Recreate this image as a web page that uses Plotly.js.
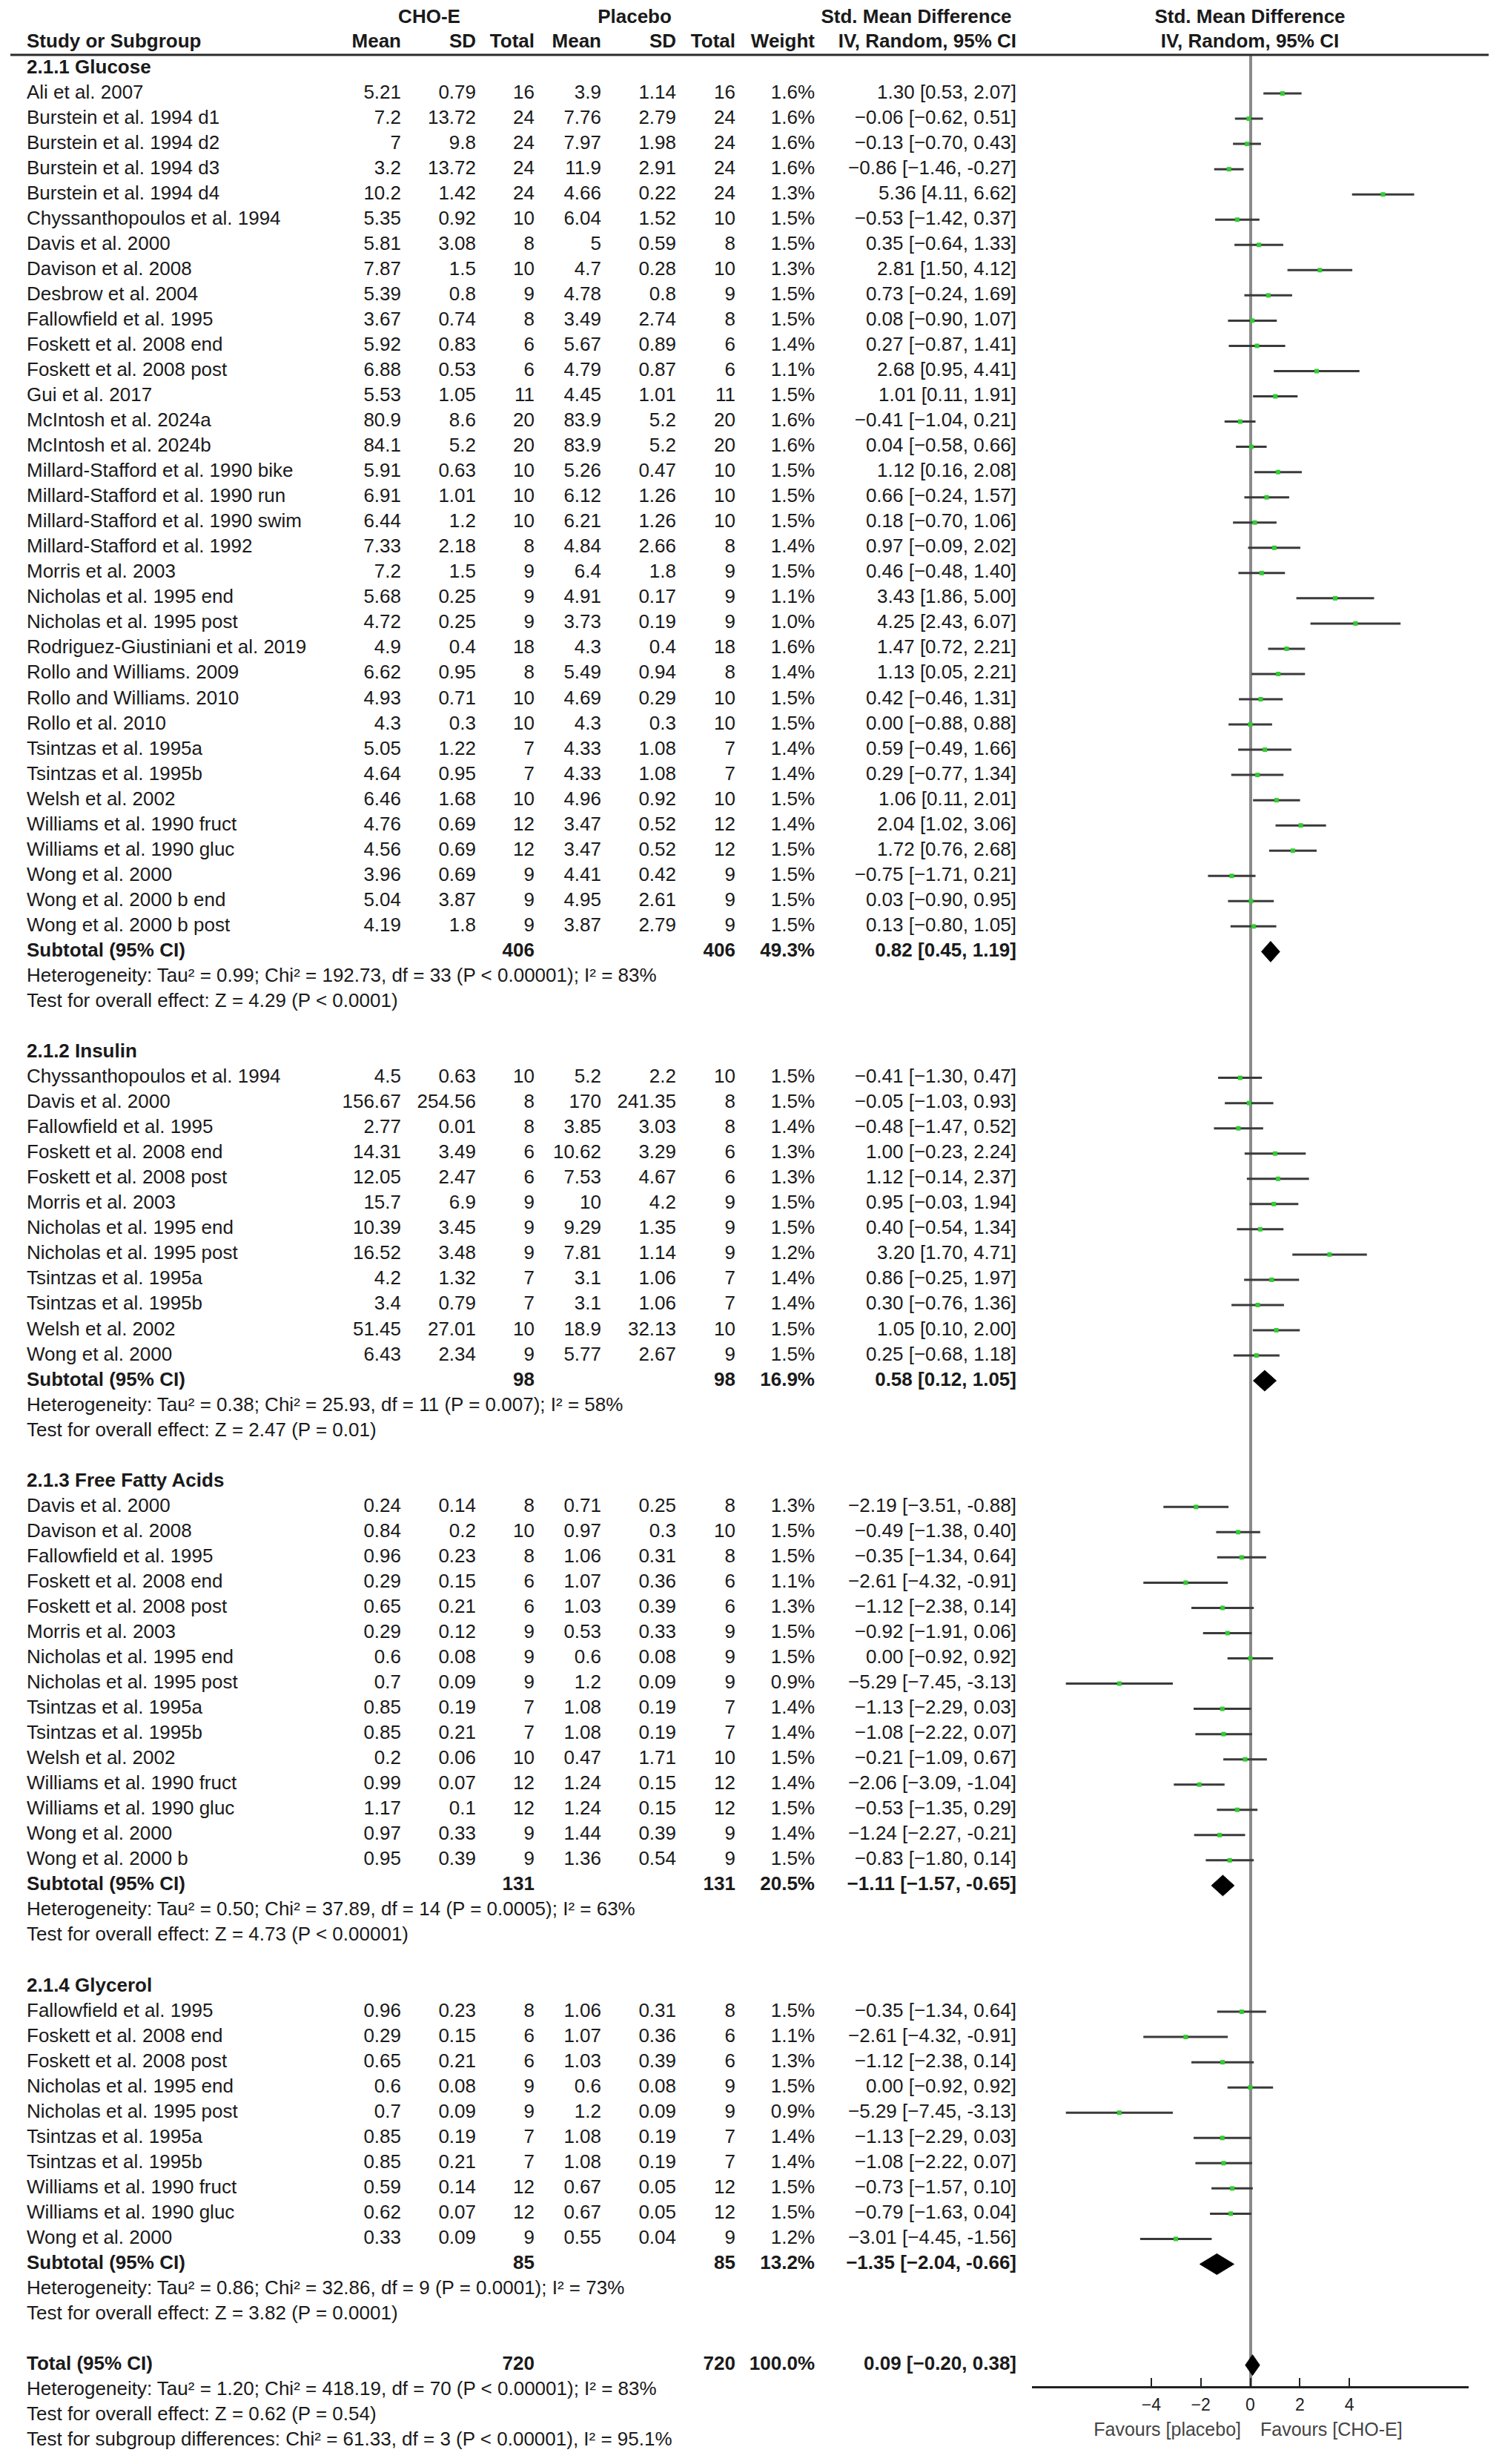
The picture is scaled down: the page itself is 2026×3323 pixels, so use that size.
<!DOCTYPE html>
<html>
<head>
<meta charset="utf-8">
<script src="https://cdn.plot.ly/plotly-3.0.1.min.js"></script>
<style>
  html, body { margin: 0; padding: 0; background: #fff; }
  #myPlot { width: 2026px; height: 3323px; }
</style>
</head>
<body>
<div id="myPlot"></div>
<script>
// ---- subgroups ----
var groupLabels = ["2.1.1 Glucose", "2.1.2 Insulin", "2.1.3 Free Fatty Acids", "2.1.4 Glycerol"];
var groupSizes = [34, 12, 15, 10];
var groupN = [406, 98, 131, 85];
var groupWeight = [49.3, 16.9, 20.5, 13.2];
var groupSmd = [0.82, 0.58, -1.11, -1.35];
var groupLow = [0.45, 0.12, -1.57, -2.04];
var groupHigh = [1.19, 1.05, -0.65, -0.66];
var groupHet = [
    "Heterogeneity: Tau² = 0.99; Chi² = 192.73, df = 33 (P < 0.00001); I² = 83%",
    "Heterogeneity: Tau² = 0.38; Chi² = 25.93, df = 11 (P = 0.007); I² = 58%",
    "Heterogeneity: Tau² = 0.50; Chi² = 37.89, df = 14 (P = 0.0005); I² = 63%",
    "Heterogeneity: Tau² = 0.86; Chi² = 32.86, df = 9 (P = 0.0001); I² = 73%"
];
var groupTest = [
    "Test for overall effect: Z = 4.29 (P < 0.0001)",
    "Test for overall effect: Z = 2.47 (P = 0.01)",
    "Test for overall effect: Z = 4.73 (P < 0.00001)",
    "Test for overall effect: Z = 3.82 (P = 0.0001)"
];

// ---- overall ----
var totalN = 720;
var totalWeight = 100.0;
var totalSmd = 0.09, totalLow = -0.20, totalHigh = 0.38;
var totalNotes = [
    "Heterogeneity: Tau² = 1.20; Chi² = 418.19, df = 70 (P < 0.00001); I² = 83%",
    "Test for overall effect: Z = 0.62 (P = 0.54)",
    "Test for subgroup differences: Chi² = 61.33, df = 3 (P < 0.00001), I² = 95.1%"
];

// ---- studies (glucose 34, insulin 12, FFA 15, glycerol 10) ----
var studyNames = [
    "Ali et al. 2007", "Burstein et al. 1994 d1", "Burstein et al. 1994 d2", "Burstein et al. 1994 d3",
    "Burstein et al. 1994 d4", "Chyssanthopoulos et al. 1994", "Davis et al. 2000", "Davison et al. 2008",
    "Desbrow et al. 2004", "Fallowfield et al. 1995", "Foskett et al. 2008 end", "Foskett et al. 2008 post",
    "Gui et al. 2017", "McIntosh et al. 2024a", "McIntosh et al. 2024b", "Millard-Stafford et al. 1990 bike",
    "Millard-Stafford et al. 1990 run", "Millard-Stafford et al. 1990 swim", "Millard-Stafford et al. 1992",
    "Morris et al. 2003", "Nicholas et al. 1995 end", "Nicholas et al. 1995 post",
    "Rodriguez-Giustiniani et al. 2019", "Rollo and Williams. 2009", "Rollo and Williams. 2010",
    "Rollo et al. 2010", "Tsintzas et al. 1995a", "Tsintzas et al. 1995b", "Welsh et al. 2002",
    "Williams et al. 1990 fruct", "Williams et al. 1990 gluc", "Wong et al. 2000", "Wong et al. 2000 b end",
    "Wong et al. 2000 b post",

    "Chyssanthopoulos et al. 1994", "Davis et al. 2000", "Fallowfield et al. 1995", "Foskett et al. 2008 end",
    "Foskett et al. 2008 post", "Morris et al. 2003", "Nicholas et al. 1995 end", "Nicholas et al. 1995 post",
    "Tsintzas et al. 1995a", "Tsintzas et al. 1995b", "Welsh et al. 2002", "Wong et al. 2000",

    "Davis et al. 2000", "Davison et al. 2008", "Fallowfield et al. 1995", "Foskett et al. 2008 end",
    "Foskett et al. 2008 post", "Morris et al. 2003", "Nicholas et al. 1995 end", "Nicholas et al. 1995 post",
    "Tsintzas et al. 1995a", "Tsintzas et al. 1995b", "Welsh et al. 2002", "Williams et al. 1990 fruct",
    "Williams et al. 1990 gluc", "Wong et al. 2000", "Wong et al. 2000 b",

    "Fallowfield et al. 1995", "Foskett et al. 2008 end", "Foskett et al. 2008 post", "Nicholas et al. 1995 end",
    "Nicholas et al. 1995 post", "Tsintzas et al. 1995a", "Tsintzas et al. 1995b", "Williams et al. 1990 fruct",
    "Williams et al. 1990 gluc", "Wong et al. 2000"
];
var choMean = [
    5.21, 7.2, 7, 3.2, 10.2, 5.35, 5.81, 7.87, 5.39, 3.67, 5.92, 6.88, 5.53, 80.9, 84.1, 5.91, 6.91,
    6.44, 7.33, 7.2, 5.68, 4.72, 4.9, 6.62, 4.93, 4.3, 5.05, 4.64, 6.46, 4.76, 4.56, 3.96, 5.04, 4.19,
    4.5, 156.67, 2.77, 14.31, 12.05, 15.7, 10.39, 16.52, 4.2, 3.4, 51.45, 6.43,
    0.24, 0.84, 0.96, 0.29, 0.65, 0.29, 0.6, 0.7, 0.85, 0.85, 0.2, 0.99, 1.17, 0.97, 0.95,
    0.96, 0.29, 0.65, 0.6, 0.7, 0.85, 0.85, 0.59, 0.62, 0.33
];
var choSD = [
    0.79, 13.72, 9.8, 13.72, 1.42, 0.92, 3.08, 1.5, 0.8, 0.74, 0.83, 0.53, 1.05, 8.6, 5.2, 0.63, 1.01,
    1.2, 2.18, 1.5, 0.25, 0.25, 0.4, 0.95, 0.71, 0.3, 1.22, 0.95, 1.68, 0.69, 0.69, 0.69, 3.87, 1.8,
    0.63, 254.56, 0.01, 3.49, 2.47, 6.9, 3.45, 3.48, 1.32, 0.79, 27.01, 2.34,
    0.14, 0.2, 0.23, 0.15, 0.21, 0.12, 0.08, 0.09, 0.19, 0.21, 0.06, 0.07, 0.1, 0.33, 0.39,
    0.23, 0.15, 0.21, 0.08, 0.09, 0.19, 0.21, 0.14, 0.07, 0.09
];
var choN = [
    16, 24, 24, 24, 24, 10, 8, 10, 9, 8, 6, 6, 11, 20, 20, 10, 10, 10, 8, 9, 9, 9, 18, 8, 10, 10, 7, 7,
    10, 12, 12, 9, 9, 9,
    10, 8, 8, 6, 6, 9, 9, 9, 7, 7, 10, 9,
    8, 10, 8, 6, 6, 9, 9, 9, 7, 7, 10, 12, 12, 9, 9,
    8, 6, 6, 9, 9, 7, 7, 12, 12, 9
];
var plMean = [
    3.9, 7.76, 7.97, 11.9, 4.66, 6.04, 5, 4.7, 4.78, 3.49, 5.67, 4.79, 4.45, 83.9, 83.9, 5.26, 6.12,
    6.21, 4.84, 6.4, 4.91, 3.73, 4.3, 5.49, 4.69, 4.3, 4.33, 4.33, 4.96, 3.47, 3.47, 4.41, 4.95, 3.87,
    5.2, 170, 3.85, 10.62, 7.53, 10, 9.29, 7.81, 3.1, 3.1, 18.9, 5.77,
    0.71, 0.97, 1.06, 1.07, 1.03, 0.53, 0.6, 1.2, 1.08, 1.08, 0.47, 1.24, 1.24, 1.44, 1.36,
    1.06, 1.07, 1.03, 0.6, 1.2, 1.08, 1.08, 0.67, 0.67, 0.55
];
var plSD = [
    1.14, 2.79, 1.98, 2.91, 0.22, 1.52, 0.59, 0.28, 0.8, 2.74, 0.89, 0.87, 1.01, 5.2, 5.2, 0.47, 1.26,
    1.26, 2.66, 1.8, 0.17, 0.19, 0.4, 0.94, 0.29, 0.3, 1.08, 1.08, 0.92, 0.52, 0.52, 0.42, 2.61, 2.79,
    2.2, 241.35, 3.03, 3.29, 4.67, 4.2, 1.35, 1.14, 1.06, 1.06, 32.13, 2.67,
    0.25, 0.3, 0.31, 0.36, 0.39, 0.33, 0.08, 0.09, 0.19, 0.19, 1.71, 0.15, 0.15, 0.39, 0.54,
    0.31, 0.36, 0.39, 0.08, 0.09, 0.19, 0.19, 0.05, 0.05, 0.04
];
var plN = [
    16, 24, 24, 24, 24, 10, 8, 10, 9, 8, 6, 6, 11, 20, 20, 10, 10, 10, 8, 9, 9, 9, 18, 8, 10, 10, 7, 7,
    10, 12, 12, 9, 9, 9,
    10, 8, 8, 6, 6, 9, 9, 9, 7, 7, 10, 9,
    8, 10, 8, 6, 6, 9, 9, 9, 7, 7, 10, 12, 12, 9, 9,
    8, 6, 6, 9, 9, 7, 7, 12, 12, 9
];
var weightPct = [
    1.6, 1.6, 1.6, 1.6, 1.3, 1.5, 1.5, 1.3, 1.5, 1.5, 1.4, 1.1, 1.5, 1.6, 1.6, 1.5, 1.5, 1.5, 1.4, 1.5,
    1.1, 1.0, 1.6, 1.4, 1.5, 1.5, 1.4, 1.4, 1.5, 1.4, 1.5, 1.5, 1.5, 1.5,
    1.5, 1.5, 1.4, 1.3, 1.3, 1.5, 1.5, 1.2, 1.4, 1.4, 1.5, 1.5,
    1.3, 1.5, 1.5, 1.1, 1.3, 1.5, 1.5, 0.9, 1.4, 1.4, 1.5, 1.4, 1.5, 1.4, 1.5,
    1.5, 1.1, 1.3, 1.5, 0.9, 1.4, 1.4, 1.5, 1.5, 1.2
];
var smd = [
    1.30, -0.06, -0.13, -0.86, 5.36, -0.53, 0.35, 2.81, 0.73, 0.08, 0.27, 2.68, 1.01, -0.41, 0.04, 1.12,
    0.66, 0.18, 0.97, 0.46, 3.43, 4.25, 1.47, 1.13, 0.42, 0.00, 0.59, 0.29, 1.06, 2.04, 1.72, -0.75, 0.03, 0.13,
    -0.41, -0.05, -0.48, 1.00, 1.12, 0.95, 0.40, 3.20, 0.86, 0.30, 1.05, 0.25,
    -2.19, -0.49, -0.35, -2.61, -1.12, -0.92, 0.00, -5.29, -1.13, -1.08, -0.21, -2.06, -0.53, -1.24, -0.83,
    -0.35, -2.61, -1.12, 0.00, -5.29, -1.13, -1.08, -0.73, -0.79, -3.01
];
var ciLow = [
    0.53, -0.62, -0.70, -1.46, 4.11, -1.42, -0.64, 1.50, -0.24, -0.90, -0.87, 0.95, 0.11, -1.04, -0.58, 0.16,
    -0.24, -0.70, -0.09, -0.48, 1.86, 2.43, 0.72, 0.05, -0.46, -0.88, -0.49, -0.77, 0.11, 1.02, 0.76, -1.71, -0.90, -0.80,
    -1.30, -1.03, -1.47, -0.23, -0.14, -0.03, -0.54, 1.70, -0.25, -0.76, 0.10, -0.68,
    -3.51, -1.38, -1.34, -4.32, -2.38, -1.91, -0.92, -7.45, -2.29, -2.22, -1.09, -3.09, -1.35, -2.27, -1.80,
    -1.34, -4.32, -2.38, -0.92, -7.45, -2.29, -2.22, -1.57, -1.63, -4.45
];
var ciHigh = [
    2.07, 0.51, 0.43, -0.27, 6.62, 0.37, 1.33, 4.12, 1.69, 1.07, 1.41, 4.41, 1.91, 0.21, 0.66, 2.08,
    1.57, 1.06, 2.02, 1.40, 5.00, 6.07, 2.21, 2.21, 1.31, 0.88, 1.66, 1.34, 2.01, 3.06, 2.68, 0.21, 0.95, 1.05,
    0.47, 0.93, 0.52, 2.24, 2.37, 1.94, 1.34, 4.71, 1.97, 1.36, 2.00, 1.18,
    -0.88, 0.40, 0.64, -0.91, 0.14, 0.06, 0.92, -3.13, 0.03, 0.07, 0.67, -1.04, 0.29, -0.21, 0.14,
    0.64, -0.91, 0.14, 0.92, -3.13, 0.03, 0.07, 0.10, 0.04, -1.56
];

var axisTicks = [-4, -2, 0, 2, 4];
var favourLeft = "Favours [placebo]", favourRight = "Favours [CHO-E]";

// ---- page geometry (pixels) ----
var W = 2026, H = 3323;
var ROW0 = 92, ROWH = 34.04;          // first data row centre, row pitch
var HEAD_LINE = 74, AXIS_LINE = 3218;
var PLOT_L = 1392, PLOT_R = 1981;
var FONT = "Liberation Sans, Arial, sans-serif";
var FS = 26;
var INK = "#1a1a1a";
var COL = {name: 36, m1: 541, s1: 642, n1: 721, m2: 811, s2: 912, n2: 992, w: 1099, ci: 1371};

function rowAt(px) { return (px - ROW0) / ROWH; }
function esc(s) { return s.replace(/</g, "&lt;"); }
function num(v, d, sign) {
    var s = Math.abs(v).toFixed(d);
    return v < 0 ? sign + s : s;
}
function ciText(e, lo, hi) {
    return num(e, 2, "\u2212") + " [" + num(lo, 2, "\u2212") + ", " + num(hi, 2, "-") + "]";
}

// text columns: L = left aligned, R = right aligned, C = centred
var txt = {L: {x: [], y: [], t: [], c: [], s: []}, R: {x: [], y: [], t: [], c: [], s: []},
           C: {x: [], y: [], t: [], c: [], s: []}};
function put(al, x, r, s, color, size) {
    txt[al].x.push(x); txt[al].y.push(r); txt[al].t.push(s);
    txt[al].c.push(color || INK); txt[al].s.push(size || FS);
}

// headers
put("C", 579, -1.97, "<b>CHO-E</b>");
put("C", 856, -1.97, "<b>Placebo</b>");
put("C", 1236, -1.97, "<b>Std. Mean Difference</b>");
put("C", 1686, -1.97, "<b>Std. Mean Difference</b>");
put("L", COL.name, -1, "<b>Study or Subgroup</b>");
put("R", COL.m1, -1, "<b>Mean</b>");
put("R", COL.s1, -1, "<b>SD</b>");
put("R", COL.n1, -1, "<b>Total</b>");
put("R", COL.m2, -1, "<b>Mean</b>");
put("R", COL.s2, -1, "<b>SD</b>");
put("R", COL.n2, -1, "<b>Total</b>");
put("R", COL.w, -1, "<b>Weight</b>");
put("R", COL.ci, -1, "<b>IV, Random, 95% CI</b>");
put("C", 1686, -1, "<b>IV, Random, 95% CI</b>");

var studyRows = [];
var diaX = [], diaY = [];
var DH = 0.41;
function diamond(e, lo, hi, r) {
    diaX.push(lo, e, hi, e, lo, null);
    diaY.push(r, r - DH, r, r + DH, r, null);
}

var r = 0, k = 0;
for (var g = 0; g < groupLabels.length; g++) {
    put("L", COL.name, r, "<b>" + groupLabels[g] + "</b>");
    r++;
    for (var j = 0; j < groupSizes[g]; j++, k++, r++) {
        studyRows.push(r);
        put("L", COL.name, r, studyNames[k]);
        put("R", COL.m1, r, String(choMean[k]));
        put("R", COL.s1, r, String(choSD[k]));
        put("R", COL.n1, r, String(choN[k]));
        put("R", COL.m2, r, String(plMean[k]));
        put("R", COL.s2, r, String(plSD[k]));
        put("R", COL.n2, r, String(plN[k]));
        put("R", COL.w, r, weightPct[k].toFixed(1) + "%");
        put("R", COL.ci, r, ciText(smd[k], ciLow[k], ciHigh[k]));
    }
    put("L", COL.name, r, "<b>Subtotal (95% CI)</b>");
    put("R", COL.n1, r, "<b>" + groupN[g] + "</b>");
    put("R", COL.n2, r, "<b>" + groupN[g] + "</b>");
    put("R", COL.w, r, "<b>" + groupWeight[g].toFixed(1) + "%</b>");
    put("R", COL.ci, r, "<b>" + ciText(groupSmd[g], groupLow[g], groupHigh[g]) + "</b>");
    diamond(groupSmd[g], groupLow[g], groupHigh[g], r);
    r++;
    put("L", COL.name, r++, esc(groupHet[g]));
    put("L", COL.name, r++, esc(groupTest[g]));
    r++;
}
put("L", COL.name, r, "<b>Total (95% CI)</b>");
put("R", COL.n1, r, "<b>" + totalN + "</b>");
put("R", COL.n2, r, "<b>" + totalN + "</b>");
put("R", COL.w, r, "<b>" + totalWeight.toFixed(1) + "%</b>");
put("R", COL.ci, r, "<b>" + ciText(totalSmd, totalLow, totalHigh) + "</b>");
diamond(totalSmd, totalLow, totalHigh, r);
r++;
totalNotes.forEach(function (s) { put("L", COL.name, r++, esc(s)); });

put("R", 1674, rowAt(3279), favourLeft, "#444", 25);
put("L", 1700, rowAt(3279), favourRight, "#444", 25);

function textTrace(al, pos) {
    return {
        type: "scatter", mode: "text", xaxis: "x2", yaxis: "y2",
        x: txt[al].x, y: txt[al].y, text: txt[al].t,
        textposition: pos, cliponaxis: false,
        textfont: {family: FONT, size: txt[al].s, color: txt[al].c}
    };
}

var data = [
    {
        type: "scatter", mode: "markers", x: smd, y: studyRows, xaxis: "x", yaxis: "y",
        marker: {symbol: "square", size: 6, color: "#33cc33"},
        error_x: {
            type: "data", symmetric: false,
            array: smd.map(function (v, i) { return ciHigh[i] - v; }),
            arrayminus: smd.map(function (v, i) { return v - ciLow[i]; }),
            thickness: 3, width: 0, color: "#3a3a3a"
        },
        cliponaxis: false
    },
    {
        type: "scatter", mode: "lines", x: diaX, y: diaY, xaxis: "x", yaxis: "y",
        fill: "toself", fillcolor: "#000", line: {color: "#000", width: 1}, cliponaxis: false
    },
    textTrace("L", "middle right"),
    textTrace("R", "middle left"),
    textTrace("C", "middle center")
];

var layout = {
    width: W, height: H,
    margin: {l: 0, r: 0, t: 0, b: 0},
    paper_bgcolor: "#fff", plot_bgcolor: "rgba(0,0,0,0)",
    showlegend: false, hovermode: false,
    font: {family: FONT, size: FS, color: INK},
    xaxis: {
        domain: [PLOT_L / W, PLOT_R / W], range: [-8.82, 8.82], anchor: "y",
        showgrid: false, zeroline: true, zerolinecolor: "#8a8a8a", zerolinewidth: 4,
        showline: true, linecolor: "#222", linewidth: 3,
        ticks: "inside", ticklen: 11, tickwidth: 2, tickcolor: "#222",
        tickvals: axisTicks, tickfont: {family: FONT, size: 23, color: "#222"},
        ticklabelstandoff: 2
    },
    yaxis: {
        domain: [1 - AXIS_LINE / H, 1 - HEAD_LINE / H],
        range: [rowAt(AXIS_LINE), rowAt(HEAD_LINE)], anchor: "x", visible: false
    },
    xaxis2: {domain: [0, 1], range: [0, W], anchor: "y2", visible: false},
    yaxis2: {domain: [0, 1], range: [rowAt(H), rowAt(0)], anchor: "x2", visible: false},
    shapes: [{
        type: "line", xref: "paper", yref: "paper",
        x0: 14 / W, x1: 2008 / W, y0: 1 - HEAD_LINE / H, y1: 1 - HEAD_LINE / H,
        line: {color: "#2b2b2b", width: 3}
    }]
};

Plotly.newPlot("myPlot", data, layout, {staticPlot: true});
</script>
</body>
</html>
